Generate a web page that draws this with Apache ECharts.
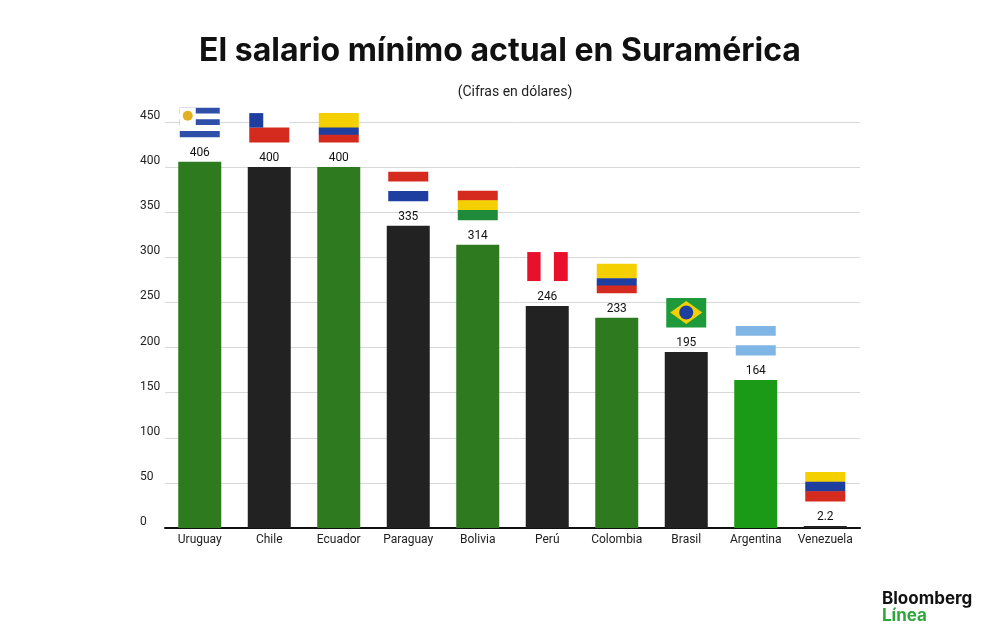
<!DOCTYPE html>
<html><head><meta charset="utf-8">
<script src="https://cdn.jsdelivr.net/npm/echarts@6/dist/echarts.min.js"></script>
<style>html,body{margin:0;background:#fff}#c{width:1000px;height:635px}</style>
</head><body><div id="c"></div>
<script>
var paises = ['Uruguay','Chile','Ecuador','Paraguay','Bolivia','Perú','Colombia','Brasil','Argentina','Venezuela'];
var salarios = [406, 400, 400, 335, 314, 246, 233, 195, 164, 2.2];
var etiquetas = ['406','400','400','335','314','246','233','195','164','2.2'];
var coloresBarra = ['#2e7a1e','#222222','#2e7a1e','#222222','#2e7a1e','#222222','#2e7a1e','#222222','#1a9a16','#222222'];
// franjas de cada bandera: [color, peso], v = vertical
var banderas = [
  {s:[['#2f4fa8',1],['#fff',1],['#2f4fa8',1],['#fff',1],['#2f4fa8',1]], sol:true},
  {s:[['#fff',1],['#d52b1e',1]], canton:'#1f3fa0'},
  {s:[['#f5d000',2],['#1f3fa0',1],['#d52b1e',1]]},
  {s:[['#d52b1e',1],['#fff',1],['#1f3fa0',1]]},
  {s:[['#d52b1e',1],['#f5d000',1],['#1e8a3a',1]]},
  {s:[['#e8102a',1],['#fff',1],['#e8102a',1]], v:true},
  {s:[['#f5d000',2],['#1f3fa0',1],['#d52b1e',1]]},
  {s:[['#1e9a3a',1]], diamond:true},
  {s:[['#7fb6e6',1],['#fff',1],['#7fb6e6',1]]},
  {s:[['#f5d000',1],['#1f3fa0',1],['#d52b1e',1]]}
];

var chart = echarts.init(document.getElementById('c'));
chart.setOption({
  title: [
    {text:'El salario mínimo actual en Suramérica', left:'center', top:30,
     textStyle:{fontFamily:'Inter', fontSize:32, fontWeight:'bold', color:'#111'}},
    {text:'(Cifras en dólares)', left:510, top:80, textAlign:'center',
     textStyle:{fontFamily:'Roboto', fontSize:14, fontWeight:'normal', color:'#222'}}
  ],
  graphic: [
    {type:'text', left:882, top:590, style:{text:'Bloomberg', font:'bold 17px Inter', fill:'#111'}},
    {type:'text', left:882, top:607, style:{text:'Línea', font:'bold 17px Inter', fill:'#2ea83a'}}
  ],
  grid: {left:165, right:140, top:122, bottom:107},
  xAxis: {type:'category', data:paises,
    axisLine:{lineStyle:{color:'#111', width:2}}, axisTick:{show:false},
    axisLabel:{interval:0, color:'#222', fontSize:12, fontFamily:'Roboto', margin:6}},
  yAxis: {type:'value', min:0, max:450, interval:50,
    axisLabel:{color:'#222', fontSize:12, fontFamily:'Roboto', align:'left', margin:25, verticalAlign:'bottom'},
    splitLine:{lineStyle:{color:'#d8d8d8'}}},
  series: [
    {type:'bar', barWidth:43, data:salarios.map(function(v,i){return {value:v, itemStyle:{color:coloresBarra[i]}};}),
     label:{show:true, position:'top', distance:3, color:'#111', fontSize:12, fontFamily:'Roboto',
       formatter:function(p){return etiquetas[p.dataIndex];}}},
    {type:'custom', data:salarios.map(function(v,i){return [i,v];}), z:5,
     renderItem:function(params, api){
       var pt = api.coord([api.value(0), api.value(1)]);
       var w = 40, h = 29, x = pt[0]-w/2, y = pt[1]-25-h;
       var f = banderas[params.dataIndex], kids = [];
       var tot = f.s.reduce(function(a,b){return a+b[1];},0), acc = 0;
       f.s.forEach(function(st){
         var frac = st[1]/tot;
         var shape = f.v ? {x:x+acc*w, y:y, width:frac*w+0.5, height:h} : {x:x, y:y+acc*h, width:w, height:frac*h+0.5};
         kids.push({type:'rect', shape:shape, style:{fill:st[0]}});
         acc += frac;
       });
       if (f.canton) kids.push({type:'rect', shape:{x:x, y:y, width:14, height:h/2}, style:{fill:f.canton}});
       if (f.sol) kids.push({type:'rect', shape:{x:x, y:y, width:16, height:h*3/5}, style:{fill:'#fff'}},
                            {type:'circle', shape:{cx:x+8, cy:y+8, r:5}, style:{fill:'#e0b020'}});
       if (f.diamond) {
         kids.push({type:'polygon', shape:{points:[[x+4,y+h/2],[x+w/2,y+3],[x+w-4,y+h/2],[x+w/2,y+h-3]]}, style:{fill:'#f5d000'}});
         kids.push({type:'circle', shape:{cx:x+w/2, cy:y+h/2, r:7}, style:{fill:'#1f3fa0'}});
       }
       return {type:'group', children:kids};
     }}
  ]
});
</script></body></html>
